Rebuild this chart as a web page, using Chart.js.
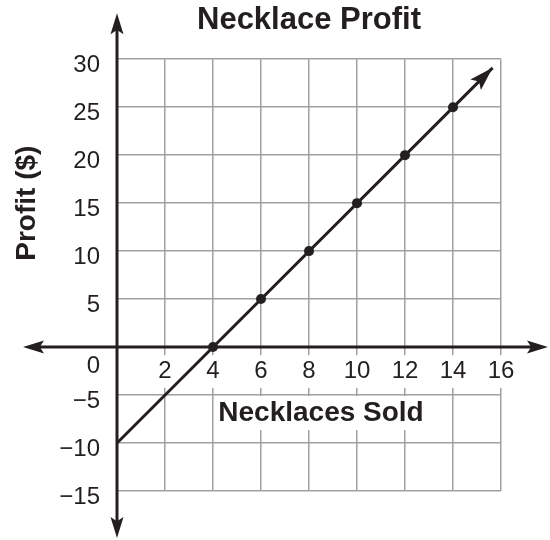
<!DOCTYPE html>
<html>
<head>
<meta charset="utf-8">
<script src="https://cdn.jsdelivr.net/npm/chart.js@4/dist/chart.umd.min.js"></script>
<style>
    html, body { margin: 0; padding: 0; background: #fff; }
    #wrap { width: 550px; height: 540px; }
</style>
</head>
<body>
<div id="wrap"><canvas id="myChart"></canvas></div>
<script>
// points
const necklacesSold = [4, 6, 8, 10, 12, 14];
const profit = [0, 5, 10, 15, 20, 25];
// the ray: starts at (0, -10), arrow tip just past x = 15.6
const lineX = [0, 15.65];
const lineY = [-10, 29.1];

const chartTitle = "Necklace Profit";
const xTitle = "Necklaces Sold";
const yTitle = "Profit ($)";

const ink = "#231f20";
const font = "'Liberation Sans', Arial, Helvetica, sans-serif";

function arrowHead(ctx, tipX, tipY, angle, len, half) {
    ctx.save();
    ctx.translate(tipX, tipY);
    ctx.rotate(angle);
    ctx.beginPath();
    ctx.moveTo(0, 0);
    ctx.lineTo(-len, -half);
    ctx.lineTo(-len * 0.8, 0);
    ctx.lineTo(-len, half);
    ctx.closePath();
    ctx.fill();
    ctx.restore();
}

// axes with arrows on both ends, plus the two axis titles
const axesPlugin = {
    id: "axesPlugin",
    beforeDatasetsDraw(chart) {
        const { ctx, chartArea, scales } = chart;
        const x0 = scales.x.getPixelForValue(0);
        const y0 = scales.y.getPixelForValue(0);
        const left = chartArea.left - 94;
        const right = chartArea.right + 47;
        const top = chartArea.top - 46;
        const bottom = chartArea.bottom + 47;

        ctx.save();
        ctx.strokeStyle = ink;
        ctx.fillStyle = ink;
        ctx.lineWidth = 3;
        ctx.beginPath();
        ctx.moveTo(left + 10, y0);
        ctx.lineTo(right - 10, y0);
        ctx.moveTo(x0, top + 10);
        ctx.lineTo(x0, bottom - 10);
        ctx.stroke();
        arrowHead(ctx, right, y0, 0, 21, 6.5);
        arrowHead(ctx, left, y0, Math.PI, 21, 6.5);
        arrowHead(ctx, x0, top, -Math.PI / 2, 21, 6.5);
        arrowHead(ctx, x0, bottom, Math.PI / 2, 21, 6.5);

        // x title with white box behind it
        ctx.font = `bold 28px ${font}`;
        ctx.textAlign = "center";
        ctx.textBaseline = "middle";
        const tx = chartArea.left + 204;
        const ty = y0 + 66;
        const w = ctx.measureText(xTitle).width;
        ctx.fillStyle = "#fff";
        ctx.fillRect(tx - w / 2 - 3, ty - 17, w + 6, 34);
        ctx.fillStyle = ink;
        ctx.fillText(xTitle, tx, ty);

        // y title, rotated
        ctx.translate(27, chartArea.top + 144);
        ctx.rotate(-Math.PI / 2);
        ctx.fillText(yTitle, 0, 0);
        ctx.restore();
    },
    afterDatasetsDraw(chart) {
        const pts = chart.getDatasetMeta(0).data;
        const a = pts[pts.length - 2];
        const b = pts[pts.length - 1];
        const ctx = chart.ctx;
        ctx.save();
        ctx.fillStyle = ink;
        arrowHead(ctx, b.x, b.y, Math.atan2(b.y - a.y, b.x - a.x), 24, 7.5);
        ctx.restore();
    },
};

function main() {
    const ctx = document.getElementById("myChart");

    const chart = new Chart(ctx, {
        type: "scatter",
        data: {
            datasets: [
                {
                    label: "line",
                    data: lineX.map((x, i) => ({ x: x, y: lineY[i] })),
                    showLine: true,
                    borderColor: ink,
                    borderWidth: 3,
                    pointRadius: 0,
                },
                {
                    label: "points",
                    data: necklacesSold.map((x, i) => ({ x: x, y: profit[i] })),
                    pointRadius: 5,
                    pointBackgroundColor: ink,
                    pointBorderWidth: 0,
                },
            ],
        },
        options: {
            responsive: true,
            maintainAspectRatio: false,
            animation: false,
            events: [],
            layout: {
                padding: { left: 0, right: 49, top: 0, bottom: 49 },
            },
            plugins: {
                legend: { display: false },
                tooltip: { enabled: false },
                title: {
                    display: true,
                    text: chartTitle,
                    fullSize: false,
                    color: ink,
                    font: { family: font, size: 31, weight: "bold" },
                    padding: { top: 2, bottom: 20 },
                },
            },
            scales: {
                x: {
                    type: "linear",
                    position: { y: 0 },
                    min: 0,
                    max: 16,
                    afterBuildTicks: (s) => {
                        s.ticks = s.ticks.filter((t) => t.value !== 0);
                    },
                    grid: { color: "#a0a0a0", lineWidth: 1.5, drawTicks: false },
                    border: { display: false },
                    ticks: {
                        stepSize: 2,
                        autoSkip: false,
                        padding: 10,
                        color: ink,
                        font: { family: font, size: 24 },
                        showLabelBackdrop: true,
                        backdropColor: "#fff",
                        backdropPadding: 2,
                        maxRotation: 0,
                    },
                },
                y: {
                    type: "linear",
                    position: "left",
                    min: -15,
                    max: 30,
                    afterFit: (s) => {
                        s.width = 117;
                    },
                    grid: { color: "#a0a0a0", lineWidth: 1.5, drawTicks: false },
                    border: { display: false },
                    ticks: {
                        stepSize: 5,
                        autoSkip: false,
                        padding: 17,
                        labelOffset: 6,
                        color: ink,
                        font: { family: font, size: 24, lineHeight: 1.1 },
                        callback: (v) => {
                            if (v === 0) return ["", "0"];
                            return v < 0 ? "\u2212" + Math.abs(v) : String(v);
                        },
                    },
                },
            },
        },
        plugins: [axesPlugin],
    });
}

main();
</script>
</body>
</html>
